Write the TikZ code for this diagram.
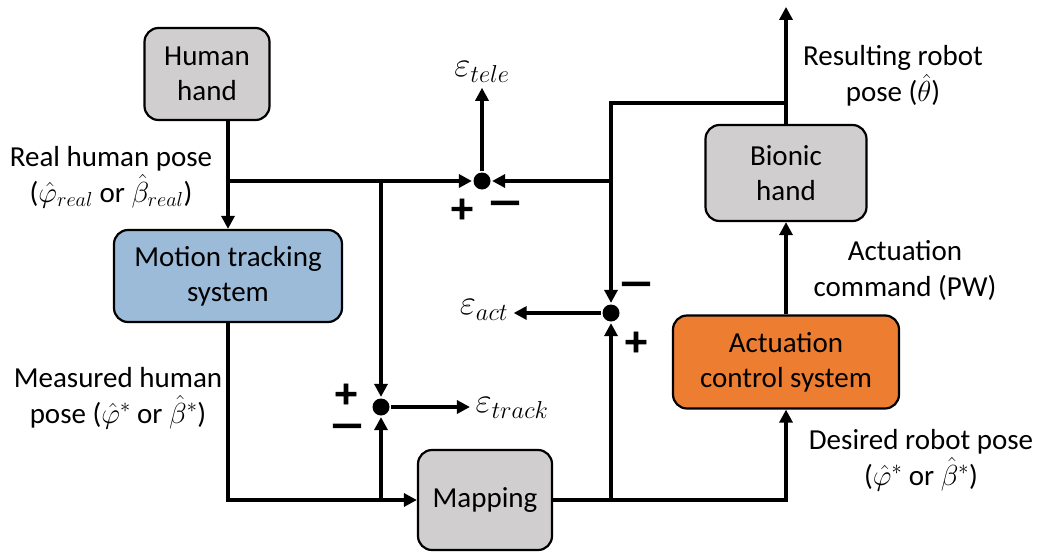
\RequirePackage{fix-cm}
\documentclass[tikz,border=0pt]{standalone}
\usepackage{fontspec}
\setmainfont{Carlito}
\newfontfamily\signfont[FakeBold=2.5]{DejaVu Sans Bold}
\usetikzlibrary{positioning, arrows.meta}
\definecolor{boxgray}{HTML}{D0CECE}
\definecolor{boxblue}{HTML}{9BBBD9}
\definecolor{boxorange}{HTML}{ED7D31}

\begin{document}
\begin{tikzpicture}[x=1pt, y=-1pt, line width=3.2pt,
	blk/.style={draw, line width=2.2pt, rounded corners=14pt, align=center, fill=boxgray,
		font=\fontsize{29}{35}\selectfont},
	lbl/.style={align=center, font=\fontsize{29}{36}\selectfont},
	err/.style={font=\fontsize{35}{38}\selectfont, inner sep=4pt},
	sum/.style={circle, fill, inner sep=0pt, minimum size=17pt},
	sgn/.style={font=\signfont\fontsize{32}{32}\selectfont, inner sep=0pt},
	>={Triangle[length=13pt, width=13pt]}]
	\useasboundingbox (0,0) rectangle (1043,554);
	\node[blk, minimum width=125pt, minimum height=92pt] (hand) at (207,74) {Human\\hand};
	\node[blk, fill=boxblue, minimum width=228pt, minimum height=92pt] (track) at (228,276) {Motion tracking\\system};
	\node[blk, minimum width=134pt, minimum height=100pt] (map) at (485,500) {Mapping};
	\node[blk, minimum width=161pt, minimum height=96pt] (bionic) at (786,173) {Bionic\\hand};
	\node[blk, fill=boxorange, minimum width=226pt, minimum height=93pt] (ctrl) at (786,362) {Actuation\\control system};
	\node[sum] (sumT) at (482,181) {};
	\node[sum] (sumA) at (611,313) {};
	\node[sum] (sumK) at (381,407) {};
	\coordinate (fb) at (611,103);
	\node[err] (tele) at (482,72) {$\varepsilon_{tele}$};
	\node[err] (act) at (484,310) {$\varepsilon_{act}$};
	\node[err] (trk) at (512,408) {$\varepsilon_{track}$};
	\node[lbl] (real) at (111,177) {Real human pose\\(\(\hat{\varphi}_{real}\) or \(\hat{\beta}_{real}\))};
	\node[lbl] (meas) at (118,398) {Measured human\\pose (\(\hat{\varphi}^{*}\) or \(\hat{\beta}^{*}\))};
	\node[lbl] (des) at (921,460) {Desired robot pose\\(\(\hat{\varphi}^{*}\) or \(\hat{\beta}^{*}\))};
	\node[lbl] (cmd) at (905,270) {Actuation\\command (PW)};
	\node[lbl] (res) at (893,76) {Resulting robot\\pose (\(\hat{\theta}\))};
	\node[sgn] (pT) at (462,209) {+};
	\node[sgn, xscale=1.35] (mT) at (505,207) {−};
	\node[sgn, xscale=1.35] (mA) at (636,288) {−};
	\node[sgn] (pA) at (636,342) {+};
	\node[sgn] (pK) at (346,394) {+};
	\node[sgn, xscale=1.35] (mK) at (347,430) {−};
	\draw[->] (track.north |- hand.south) -- (track.north);
	\draw[->] (track.north |- sumT) -- (sumT);
	\draw[->] (sumK |- sumT) -- (sumK);
	\draw[->] (sumT) -- (tele.south);
	\draw[->] (sumA |- sumT) -- (sumT);
	\draw[->] (bionic.north |- fb) -- (fb) -- (sumA);
	\draw[->] (bionic.north) -- ++(0,-117) coordinate (out);
	\draw[->] (sumA |- map.east) -- (sumA);
	\draw[->] (sumA) -- (sumA -| act.east);
	\draw[->] (map.east) -| (ctrl.south);
	\draw[->] (ctrl.north) -- (bionic.south);
	\draw[->] (track.south) |- (map.west);
	\draw[->] (sumK |- map.west) -- (sumK);
	\draw[->] (sumK) -- (sumK -| trk.west);
\end{tikzpicture}
\end{document}
